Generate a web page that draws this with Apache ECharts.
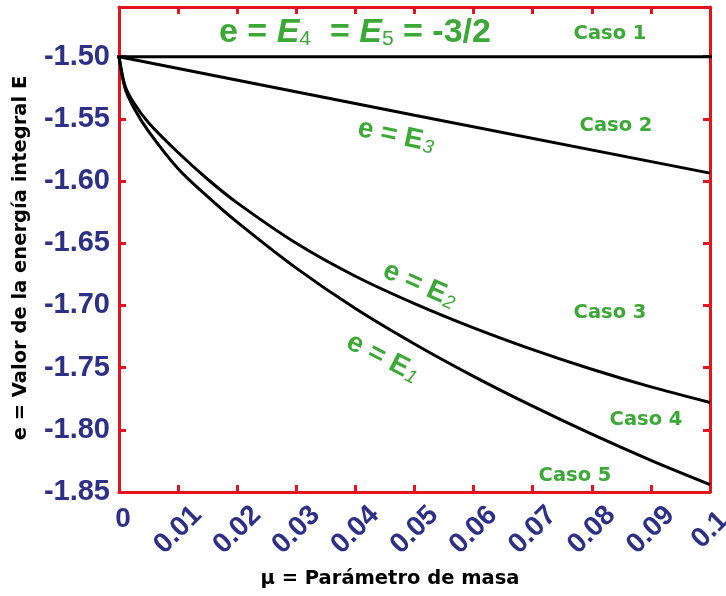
<!DOCTYPE html>
<html>
<head>
<meta charset="utf-8">
<script src="https://cdn.jsdelivr.net/npm/echarts@6/dist/echarts.min.js"></script>
<style>
  html, body { margin: 0; padding: 0; background: #ffffff; }
  #chart { width: 726px; height: 596px; }
</style>
</head>
<body>
<div id="chart"></div>
<script>
// Mass parameter values where the energy curves are sampled
const muGrid = [0, 0.001, 0.0025, 0.005, 0.01, 0.015, 0.02, 0.03, 0.04, 0.05, 0.06, 0.07, 0.08, 0.09, 0.1];
// e = E1 (Caso 5)
const energyE1 = [-1.5, -1.525, -1.541, -1.560, -1.590, -1.6125, -1.633, -1.670, -1.7025, -1.731, -1.757, -1.781, -1.8035, -1.8245, -1.844];
// e = E2 (Caso 4)
const energyE2 = [-1.5, -1.523, -1.537, -1.553, -1.577, -1.5985, -1.6175, -1.650, -1.6765, -1.6985, -1.718, -1.7355, -1.7513, -1.7655, -1.778];
// e = E3 (Caso 2), practically straight
const muE3 = [0, 0.05, 0.1];
const energyE3 = [-1.5, -1.547, -1.5936];
// e = E4 = E5 = -3/2 (Caso 1), drawn slightly past the frame
const muE45 = [-0.001, 0.1027];
const energyE45 = [-1.5, -1.5];

// Axis ranges and steps
const xMin = 0, xMax = 0.1, xStep = 0.01;
const yMin = -1.85, yMax = -1.46, yStep = 0.05;

// Text
const xTitle = 'μ = Parámetro de masa';
const yTitle = 'e = Valor de la energía integral E';
const casoLabels = ['Caso 1', 'Caso 2', 'Caso 3', 'Caso 4', 'Caso 5'];

const RED = '#e5141c';
const NAVY = '#2d3088';
const GREEN = '#3ba935';

const pairs = (xs, ys) => xs.map((x, i) => [x, ys[i]]);

const frameAxis = {
  axisLine: { show: true, onZero: false, lineStyle: { color: RED, width: 3 } },
  axisTick: { show: true, inside: true, length: 7, lineStyle: { color: RED, width: 3 } },
  splitLine: { show: false }
};

const xBase = { type: 'value', min: xMin, max: xMax, interval: xStep, gridIndex: 0 };
const yBase = { type: 'value', min: yMin, max: yMax, interval: yStep, gridIndex: 0 };

const curve = (data, smooth) => ({
  type: 'line',
  data,
  xAxisIndex: 0,
  yAxisIndex: 0,
  showSymbol: false,
  symbol: 'none',
  smooth: smooth,
  clip: false,
  lineStyle: { color: '#000000', width: 3 },
  z: 5
});

const casoText = (txt, x, y) => ({
  type: 'text', x, y, z: 20,
  style: {
    text: txt, fill: GREEN, fontFamily: 'DejaVu Sans', fontWeight: 'bold', fontSize: 19.5,
    align: 'center', verticalAlign: 'middle'
  }
});

const curveRich = {
  a: { fill: GREEN, fontFamily: 'Liberation Sans', fontWeight: 'bold', fontSize: 28 },
  s: { fill: GREEN, fontFamily: 'Liberation Sans', fontStyle: 'italic', fontSize: 19, verticalAlign: 'bottom', padding: [6, 0, 0, 1] }
};

const curveLabel = (sub, x, y, deg) => ({
  type: 'text', x, y, rotation: -deg * Math.PI / 180, z: 20,
  style: {
    text: '{a|e = E}{s|' + sub + '}', rich: curveRich,
    align: 'center', verticalAlign: 'middle'
  }
});

const chart = echarts.init(document.getElementById('chart'), null, { renderer: 'canvas' });

chart.setOption({
  animation: false,
  backgroundColor: '#ffffff',
  grid: { left: 119, right: 16, top: 7, bottom: 104, containLabel: false, outerBoundsMode: 'none' },
  xAxis: [
    Object.assign({}, xBase, frameAxis, {
      position: 'bottom',
      axisLabel: {
        show: true, rotate: 45, align: 'center', verticalAlign: 'middle', margin: 38,
        showMinLabel: false, showMaxLabel: true,
        color: NAVY, fontFamily: 'Liberation Sans', fontWeight: 'bold', fontSize: 28,
        formatter: (v) => String(+v.toFixed(2))
      }
    }),
    Object.assign({}, xBase, frameAxis, {
      position: 'top',
      axisLabel: { show: false }
    }),
    Object.assign({}, xBase, {
      position: 'bottom',
      axisLine: { show: false },
      axisTick: { show: false },
      splitLine: { show: false },
      axisLabel: {
        show: true, margin: 13, padding: [0, 0, 0, 8],
        showMinLabel: true, showMaxLabel: false,
        color: NAVY, fontFamily: 'Liberation Sans', fontWeight: 'bold', fontSize: 28,
        formatter: (v) => (Math.abs(v) < 1e-9 ? '0' : '')
      }
    })
  ],
  yAxis: [
    Object.assign({}, yBase, frameAxis, {
      position: 'left',
      axisLabel: {
        show: true, margin: 9, showMaxLabel: false, showMinLabel: true,
        color: NAVY, fontFamily: 'Liberation Sans', fontWeight: 'bold', fontSize: 29,
        formatter: (v) => v.toFixed(2)
      }
    }),
    Object.assign({}, yBase, frameAxis, {
      position: 'right',
      axisLabel: { show: false }
    })
  ],
  series: [
    curve(pairs(muE45, energyE45), false),
    curve(pairs(muE3, energyE3), false),
    curve(pairs(muGrid, energyE2), 0.3),
    curve(pairs(muGrid, energyE1), 0.3)
  ],
  graphic: [
    {
      type: 'text', x: 21, y: 258, rotation: Math.PI / 2, z: 20,
      style: {
        text: yTitle, fill: '#000000', fontFamily: 'DejaVu Sans', fontWeight: 'bold', fontSize: 19.5,
        align: 'center', verticalAlign: 'middle'
      }
    },
    {
      type: 'text', x: 390, y: 579, z: 20,
      style: {
        text: xTitle, fill: '#000000', fontFamily: 'DejaVu Sans', fontWeight: 'bold', fontSize: 19.5,
        align: 'center', verticalAlign: 'middle'
      }
    },
    {
      type: 'text', x: 219, y: 33, z: 20,
      style: {
        text: '{a|e = }{i|E}{s|4}{a|  = }{i|E}{s|5}{a| = -3/2}',
        align: 'left', verticalAlign: 'middle',
        rich: {
          a: { fill: GREEN, fontFamily: 'Liberation Sans', fontWeight: 'bold', fontSize: 34 },
          i: { fill: GREEN, fontFamily: 'Liberation Sans', fontWeight: 'bold', fontStyle: 'italic', fontSize: 34 },
          s: { fill: GREEN, fontFamily: 'Liberation Sans', fontSize: 21, verticalAlign: 'bottom', padding: [4, 0, 0, 0] }
        }
      }
    },
    casoText(casoLabels[0], 610, 34),
    casoText(casoLabels[1], 616, 126),
    casoText(casoLabels[2], 610, 313),
    casoText(casoLabels[3], 646, 420),
    casoText(casoLabels[4], 575, 476),
    curveLabel('3', 396, 136, 12),
    curveLabel('2', 420, 285, 24),
    curveLabel('1', 383, 358, 27)
  ]
});
</script>
</body>
</html>
